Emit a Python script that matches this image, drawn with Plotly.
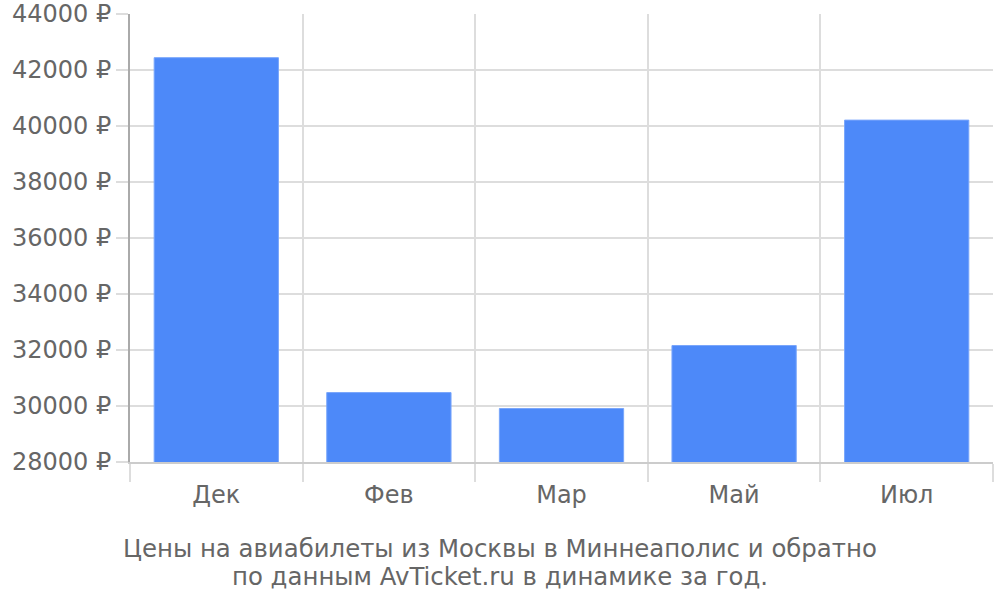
import plotly.graph_objects as go

months = ["Дек", "Фев", "Мар", "Май", "Июл"]
prices = [42440, 30480, 29910, 32160, 40210]
y_ticks = list(range(28000, 44001, 2000))
y_tick_labels = [f"{v} ₽" for v in y_ticks]
title_lines = ["Цены на авиабилеты из Москвы в Миннеаполис и обратно",
               "по данным AvTicket.ru в динамике за год."]

font_family = "DejaVu Sans"
text_color = "#666666"
W, H = 1000, 600
L, R, T, B = 130, 7, 14, 138

fig = go.Figure(go.Bar(
    x=months, y=prices,
    marker=dict(color="#4d89f9", line=dict(color="#79a6fb", width=1)),
    hoverinfo="x+y",
))

plot_w = W - L - R
plot_h = H - T - B
for line, py, px in zip(title_lines, [548, 576], [500, 500]):
    fig.add_annotation(
        text=line, showarrow=False,
        xref="paper", yref="paper",
        x=(px - L) / plot_w, y=(H - B - py) / plot_h,
        xanchor="center", yanchor="middle",
        font=dict(family=font_family, size=24.4, color=text_color),
    )

fig.update_layout(
    width=W, height=H,
    margin=dict(l=L, r=R, t=T, b=B),
    paper_bgcolor="white", plot_bgcolor="white",
    bargap=0.28,
    showlegend=False,
    font=dict(family=font_family, color=text_color, size=24),
)

fig.update_xaxes(
    type="category",
    automargin=False,
    tickson="boundaries",
    ticks="outside", ticklen=18, tickcolor="#dddddd", tickwidth=2,
    ticklabelstandoff=10,
    showgrid=True, gridcolor="#dddddd", gridwidth=2,
    showline=True, linecolor="#cccccc", linewidth=2,
    tickfont=dict(family=font_family, size=24, color=text_color),
)

fig.update_yaxes(
    automargin=False,
    range=[28000, 44000],
    tickvals=y_ticks,
    ticktext=y_tick_labels,
    ticklabeloverflow="allow",
    ticks="outside", ticklen=12, tickcolor="#dddddd", tickwidth=2,
    showgrid=True, gridcolor="#dddddd", gridwidth=2,
    showline=True, linecolor="#aaaaaa", linewidth=2,
    zeroline=False,
    tickfont=dict(family=font_family, size=24, color=text_color),
)

fig.write_html("out.html",
               config={"displayModeBar": False},
               post_script="document.body.style.margin='0';document.body.style.overflow='hidden';")
